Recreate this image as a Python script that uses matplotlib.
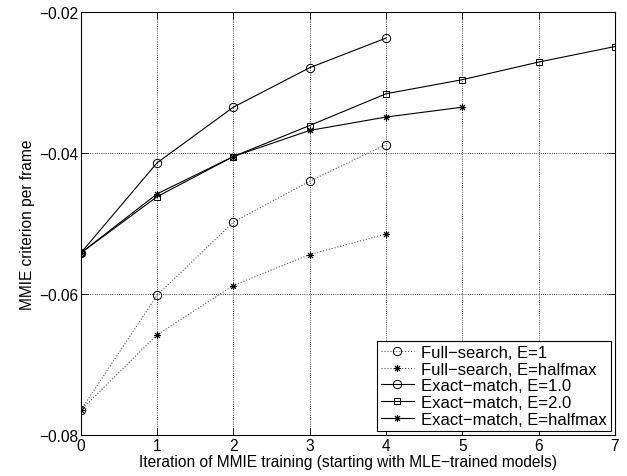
import numpy as np
import matplotlib
matplotlib.use('Agg')
import matplotlib.pyplot as plt

plt.rcParams['font.family'] = ['Liberation Sans', 'DejaVu Sans']
plt.rcParams['font.size'] = 11.2

# Data
x_full = [0, 1, 2, 3, 4]
full_e1 = [-0.0765, -0.0602, -0.0498, -0.0440, -0.0388]
full_half = [-0.0765, -0.0658, -0.0588, -0.0544, -0.0515]

x_em1 = [0, 1, 2, 3, 4]
exact_e1 = [-0.0542, -0.0414, -0.0335, -0.0279, -0.0237]
x_em2 = [0, 1, 2, 3, 4, 5, 6, 7]
exact_e2 = [-0.0542, -0.0462, -0.0405, -0.0361, -0.0316, -0.0296, -0.0271, -0.0249]
x_emh = [0, 1, 2, 3, 4, 5]
exact_half = [-0.0542, -0.0458, -0.0405, -0.0368, -0.0349, -0.0335]

labels = ['Full\u2212search, E=1', 'Full\u2212search, E=halfmax',
          'Exact\u2212match, E=1.0', 'Exact\u2212match, E=2.0',
          'Exact\u2212match, E=halfmax']

fig = plt.figure(figsize=(6.27, 4.77), dpi=100)
ax = fig.add_axes([0.1287, 0.086, 0.852, 0.8867])

lw = 0.8
ast = (8, 2, 0)  # matlab-style asterisk
ax.plot(x_full, full_e1, ':', color='#555555', lw=lw, marker='o', ms=6,
        mfc='none', mec='black', mew=0.7, label=labels[0])
ax.plot(x_full, full_half, ':', color='#555555', lw=lw, marker=ast, ms=5,
        mfc='black', mec='black', mew=0.7, label=labels[1])
ax.plot(x_em1, exact_e1, '-', color='black', lw=lw, marker='o', ms=6,
        mfc='none', mec='black', mew=0.7, label=labels[2])
ax.plot(x_em2, exact_e2, '-', color='black', lw=lw, marker='s', ms=5,
        mfc='none', mec='black', mew=0.7, label=labels[3])
ax.plot(x_emh, exact_half, '-', color='black', lw=lw, marker=ast, ms=5,
        mfc='black', mec='black', mew=0.7, label=labels[4])

ax.set_xlim(0, 7)
ax.set_ylim(-0.08, -0.02)
ax.set_xticks(range(8))
ax.set_yticks([-0.08, -0.06, -0.04, -0.02])
ax.yaxis.set_major_formatter(matplotlib.ticker.FuncFormatter(lambda v, p: ('%.2f' % v).replace('-', '\u2212')))
ax.grid(True, linestyle=':', color='black', lw=0.6)
ax.tick_params(direction='in', top=True, right=True, length=5, width=0.6, pad=2)
for s in ax.spines.values():
    s.set_linewidth(0.8)

ax.set_xlabel('Iteration of MMIE training (starting with MLE\u2212trained models)', labelpad=1)
ax.set_ylabel('MMIE criterion per frame', labelpad=3)

leg = ax.legend(loc='lower right', fancybox=False, edgecolor='black', framealpha=1,
                borderpad=0.25, labelspacing=0.1, handlelength=2.0, handletextpad=0.4,
                borderaxespad=0.25, fontsize=12)
leg.get_frame().set_linewidth(0.8)

fig.savefig('out.png', dpi=100)
